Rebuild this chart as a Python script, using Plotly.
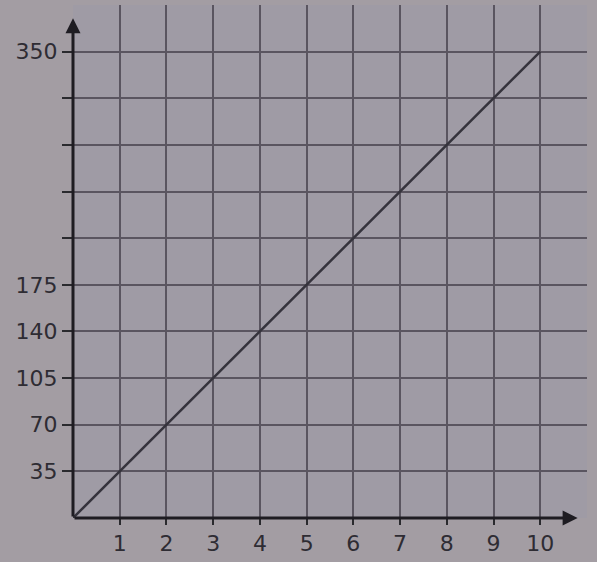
import plotly.graph_objects as go

x_vals = [0, 1, 2, 3, 4, 5, 6, 7, 8, 9, 10]
y_vals = [0, 35, 70, 105, 140, 175, 210, 245, 280, 315, 350]

x_ticks = [1, 2, 3, 4, 5, 6, 7, 8, 9, 10]
x_labels = ["1", "2", "3", "4", "5", "6", "7", "8", "9", "10"]
y_ticks = [35, 70, 105, 140, 175, 210, 245, 280, 315, 350]
y_labels = ["35", "70", "105", "140", "175", "", "", "", "", "350"]

grid_col = "#5a5560"
fig = go.Figure()
fig.add_trace(go.Scatter(x=x_vals, y=y_vals, mode="lines",
                         line=dict(color="#35333c", width=2.5), showlegend=False))

fig.update_xaxes(range=[0, 11], tickvals=x_ticks, ticktext=x_labels,
                 showgrid=True, gridcolor=grid_col, gridwidth=2,
                 ticks="outside", ticklen=6, tickwidth=2, tickcolor="#2a2a2e",
                 minor=dict(dtick=1, showgrid=True, gridcolor=grid_col, gridwidth=2),
                 zeroline=False, showline=False, automargin=False,
                 tickfont=dict(family="DejaVu Sans", size=22, color="#2e2c33"))
fig.update_yaxes(range=[0, 385], tickvals=y_ticks, ticktext=y_labels,
                 showgrid=True, gridcolor=grid_col, gridwidth=2,
                 ticks="outside", ticklen=10, tickwidth=2, tickcolor="#2a2a2e",
                 minor=dict(dtick=35, showgrid=True, gridcolor=grid_col, gridwidth=2),
                 zeroline=False, showline=False, automargin=False,
                 tickfont=dict(family="DejaVu Sans", size=22, color="#2e2c33"))

# axes with arrows
fig.add_annotation(x=0, y=375, ax=0, ay=0, xref="x", yref="y", axref="x", ayref="y",
                   showarrow=True, arrowhead=2, arrowsize=1, arrowwidth=3,
                   arrowcolor="#1e1c22", text="")
fig.add_annotation(x=10.8, y=0, ax=0, ay=0, xref="x", yref="y", axref="x", ayref="y",
                   showarrow=True, arrowhead=2, arrowsize=1, arrowwidth=3,
                   arrowcolor="#1e1c22", text="")

fig.update_layout(width=597, height=562,
                  margin=dict(l=73, r=10, t=5, b=44),
                  paper_bgcolor="#a39da3", plot_bgcolor="#9f9ba5")
fig.write_html("out.html", config={"displayModeBar": False},
               post_script="document.body.style.margin='0';")
